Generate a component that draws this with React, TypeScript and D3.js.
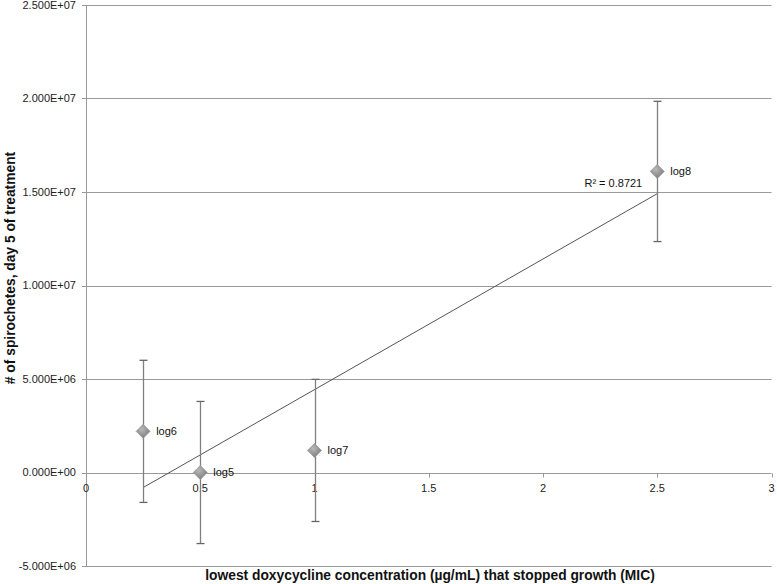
import React, { useEffect, useRef } from "react";
import * as d3 from "d3";

// MIC (ug/mL) per strain, and spirochete counts on day 5
const labels = ["log6", "log5", "log7", "log8"];
const mic = [0.25, 0.5, 1, 2.5];
const counts = [2.2e6, 0.0, 1.18e6, 1.61e7];
const errors = [3.8e6, 3.8e6, 3.8e6, 3.75e6];

const xTicks = [0, 0.5, 1, 1.5, 2, 2.5, 3];
const yTicks = [-5e6, 0, 5e6, 1e7, 1.5e7, 2e7, 2.5e7];
const r2Text = "R² = 0.8721";

const W = 777;
const H = 584;
const margin = { top: 5, right: 5, bottom: 18, left: 86 };

function sci(v: number) {
  if (v === 0) return "0.000E+00";
  const e = Math.floor(Math.log10(Math.abs(v)));
  const m = v / Math.pow(10, e);
  const sign = e < 0 ? "-" : "+";
  return m.toFixed(3) + "E" + sign + String(Math.abs(e)).padStart(2, "0");
}

export default function App() {
  const ref = useRef<SVGSVGElement>(null);

  useEffect(() => {
    const svg = d3.select(ref.current);
    svg.selectAll("*").remove();

    const x = d3.scaleLinear().domain([0, 3]).range([margin.left, W - margin.right - 0.5]);
    const y = d3.scaleLinear().domain([-5e6, 2.5e7]).range([H - margin.bottom, margin.top]);

    const defs = svg.append("defs");
    const grad = defs.append("radialGradient").attr("id", "dia").attr("cx", "40%").attr("cy", "35%").attr("r", "70%");
    grad.append("stop").attr("offset", "0%").attr("stop-color", "#b8b8b8");
    grad.append("stop").attr("offset", "100%").attr("stop-color", "#7a7a7a");

    const g = svg.append("g")
      .attr("font-family", "'Liberation Sans', Arial, sans-serif")
      .attr("font-size", 11);

    // gridlines
    g.append("g")
      .selectAll("line")
      .data(yTicks)
      .join("line")
        .attr("x1", margin.left - 4)
        .attr("x2", x(3))
        .attr("y1", d => Math.round(y(d)) + 0.5)
        .attr("y2", d => Math.round(y(d)) + 0.5)
        .attr("stroke", "#999")
        .attr("stroke-width", 1);

    // y axis line
    g.append("line")
      .attr("x1", margin.left + 0.5).attr("x2", margin.left + 0.5)
      .attr("y1", y(2.5e7)).attr("y2", y(-5e6))
      .attr("stroke", "#999");

    g.append("g")
      .selectAll("text")
      .data(yTicks)
      .join("text")
        .attr("x", margin.left - 10)
        .attr("y", d => y(d))
        .attr("dy", "0.35em")
        .attr("text-anchor", "end")
        .attr("fill", "#222")
        .text(d => sci(d));

    // x axis ticks along y = 0
    const y0 = Math.round(y(0)) + 0.5;
    g.append("g")
      .selectAll("line")
      .data(xTicks)
      .join("line")
        .attr("x1", d => Math.round(x(d)) + 0.5)
        .attr("x2", d => Math.round(x(d)) + 0.5)
        .attr("y1", y0)
        .attr("y2", y0 + 4)
        .attr("stroke", "#999");

    g.append("g")
      .selectAll("text")
      .data(xTicks)
      .join("text")
        .attr("x", d => x(d))
        .attr("y", y0 + 18)
        .attr("text-anchor", "middle")
        .attr("fill", "#222")
        .text(d => String(d));

    // linear trendline over the data range
    const pts = mic.map((m, i) => [m, counts[i]] as [number, number]);
    const mx = d3.mean(mic) as number;
    const my = d3.mean(counts) as number;
    const sxy = d3.sum(pts, p => (p[0] - mx) * (p[1] - my));
    const sxx = d3.sum(mic, m => (m - mx) * (m - mx));
    const slope = sxy / sxx;
    const icpt = my - slope * mx;
    const [xa, xb] = d3.extent(mic) as [number, number];
    g.append("line")
      .attr("x1", x(xa)).attr("y1", y(icpt + slope * xa))
      .attr("x2", x(xb)).attr("y2", y(icpt + slope * xb))
      .attr("stroke", "#555")
      .attr("stroke-width", 1);

    g.append("text")
      .attr("x", x(xb) - 15)
      .attr("y", y(icpt + slope * xb) - 11)
      .attr("dy", "0.35em")
      .attr("text-anchor", "end")
      .attr("fill", "#111")
      .text(r2Text);

    // error bars
    const eb = g.append("g").attr("stroke", "#808080").attr("stroke-width", 1.3);
    mic.forEach((m, i) => {
      const cx = Math.round(x(m)) + 0.5;
      const top = y(counts[i] + errors[i]);
      const bot = y(counts[i] - errors[i]);
      eb.append("line").attr("x1", cx).attr("x2", cx).attr("y1", top).attr("y2", bot);
      eb.append("line").attr("x1", cx - 4).attr("x2", cx + 4).attr("y1", top).attr("y2", top).attr("stroke", "#666");
      eb.append("line").attr("x1", cx - 4).attr("x2", cx + 4).attr("y1", bot).attr("y2", bot).attr("stroke", "#666");
    });

    // markers
    const node = g.append("g")
      .selectAll("g")
      .data(mic)
      .join("g")
        .attr("transform", (d, i) => `translate(${x(d)},${y(counts[i])})`);

    node.append("path")
      .attr("d", "M0,-7L7,0L0,7L-7,0Z")
      .attr("fill", "url(#dia)")
      .attr("stroke", "#9a9a9a")
      .attr("stroke-width", 0.8);

    node.append("text")
      .attr("x", 13)
      .attr("dy", "0.35em")
      .attr("fill", "#111")
      .text((d, i) => labels[i]);

    // axis titles
    g.append("text")
      .attr("x", 430)
      .attr("y", 580)
      .attr("text-anchor", "middle")
      .attr("font-size", 13.8)
      .attr("font-weight", "bold")
      .attr("fill", "#111")
      .text("lowest doxycycline concentration (µg/mL) that stopped growth (MIC)");

    g.append("text")
      .attr("transform", "translate(15,268) rotate(-90)")
      .attr("text-anchor", "middle")
      .attr("font-size", 13.8)
      .attr("font-weight", "bold")
      .attr("fill", "#111")
      .text("# of spirochetes, day 5 of treatment");
  }, []);

  return (
    <div style={{ position: "absolute", left: 0, top: 0 }}>
      <svg ref={ref} width={W} height={H} style={{ display: "block", background: "#fff" }}></svg>
    </div>
  );
}
